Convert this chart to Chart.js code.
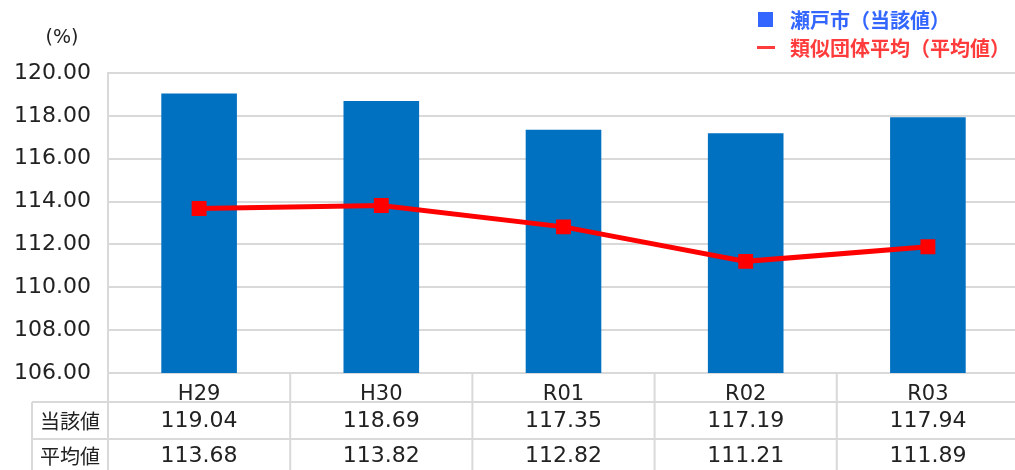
<!DOCTYPE html>
<html>
<head>
<meta charset="utf-8">
<script src="https://cdn.jsdelivr.net/npm/chart.js@4/dist/chart.umd.min.js"></script>
<style>
  html, body { margin: 0; padding: 0; background: #fff; overflow: hidden; }
</style>
</head>
<body>
<canvas id="chart" width="1024" height="470"></canvas>
<script>
const years = ['H29', 'H30', 'R01', 'R02', 'R03'];
const setoValues = [119.04, 118.69, 117.35, 117.19, 117.94];
const avgValues = [113.68, 113.82, 112.82, 111.21, 111.89];
const rowNames = ['当該値', '平均値'];
const yTicks = [106, 108, 110, 112, 114, 116, 118, 120];

const JP = '"Noto Sans CJK JP", "Noto Sans", sans-serif';
const NUM = '"DejaVu Sans", sans-serif';
const GRID = '#d9d9d9';

// legend, unit label and the data table under the x axis
const extras = {
    id: 'extras',
    afterDraw(chart) {
        const c = chart.ctx;
        const area = chart.chartArea;
        const x = chart.scales.x;
        const W = chart.width;
        const bottom = chart.height;
        const row1 = area.bottom + 29;
        const row2 = row1 + 37;

        c.save();
        c.strokeStyle = GRID;
        c.lineWidth = 2;
        c.beginPath();
        // column dividers
        for (let i = 0; i < years.length; i++) {
            const px = i === 0 ? area.left
                : (x.getPixelForValue(i - 1) + x.getPixelForValue(i)) / 2;
            c.moveTo(px, area.bottom);
            c.lineTo(px, bottom);
        }
        c.moveTo(32, row1);
        c.lineTo(32, bottom);
        c.moveTo(32, row1);
        c.lineTo(W, row1);
        c.moveTo(32, row2);
        c.lineTo(W, row2);
        c.stroke();

        c.fillStyle = '#222';
        c.textAlign = 'center';
        c.textBaseline = 'middle';
        const rows = [setoValues, avgValues];
        const centers = [(row1 + row2) / 2 + 1, (row2 + bottom) / 2 + 2];
        rows.forEach((vals, r) => {
            c.font = '20px ' + JP;
            c.fillText(rowNames[r], (32 + area.left) / 2, centers[r]);
            c.font = '22px ' + NUM;
            vals.forEach((v, i) => {
                c.fillText(v.toFixed(2), x.getPixelForValue(i), centers[r]);
            });
        });

        // unit
        c.font = '19px ' + NUM;
        c.fillText('(%)', 62, 38);

        // legend
        c.textAlign = 'left';
        c.font = 'bold 20px ' + JP;
        c.fillStyle = '#3366ff';
        c.fillRect(758, 12, 15, 15);
        c.fillText('瀬戸市（当該値）', 790, 20);
        c.fillStyle = '#ff3b3b';
        c.fillRect(757, 46, 18, 3);
        c.fillText('類似団体平均（平均値）', 790, 48);
        c.restore();
    }
};

const ctx = document.getElementById('chart').getContext('2d');

const chart = new Chart(ctx, {
    type: 'bar',
    data: {
        labels: years,
        datasets: [{
            type: 'line',
            label: '類似団体平均（平均値）',
            data: avgValues,
            borderColor: '#ff0000',
            backgroundColor: '#ff0000',
            borderWidth: 5,
            pointStyle: 'rect',
            pointRadius: 7,
            pointHoverRadius: 7,
            tension: 0,
            order: 0
        }, {
            label: '瀬戸市（当該値）',
            data: setoValues,
            backgroundColor: '#0070c0',
            categoryPercentage: 1,
            barPercentage: 0.415,
            order: 1
        }]
    },
    options: {
        responsive: false,
        animation: false,
        layout: {
            autoPadding: false,
            padding: { left: 0, right: 5, top: 73, bottom: 57 }
        },
        plugins: {
            legend: { display: false },
            tooltip: { enabled: false }
        },
        scales: {
            x: {
                grid: { display: false },
                border: { display: false },
                ticks: {
                    color: '#222',
                    font: { family: NUM, size: 21 },
                    padding: 1
                },
                afterFit(scale) {
                    scale.height = 40;
                    scale.paddingLeft = 0;
                    scale.paddingRight = 0;
                }
            },
            y: {
                min: 106,
                max: 120,
                afterBuildTicks(scale) {
                    scale.ticks = yTicks.map(v => ({ value: v }));
                },
                grid: { color: GRID, lineWidth: 2, drawTicks: false },
                border: { color: GRID, width: 2 },
                ticks: {
                    color: '#222',
                    font: { family: NUM, size: 22 },
                    padding: 17,
                    callback: v => v.toFixed(2)
                },
                afterFit(scale) {
                    scale.width = 108;
                    scale.paddingTop = 0;
                    scale.paddingBottom = 0;
                }
            }
        }
    },
    plugins: [extras]
});
</script>
</body>
</html>
